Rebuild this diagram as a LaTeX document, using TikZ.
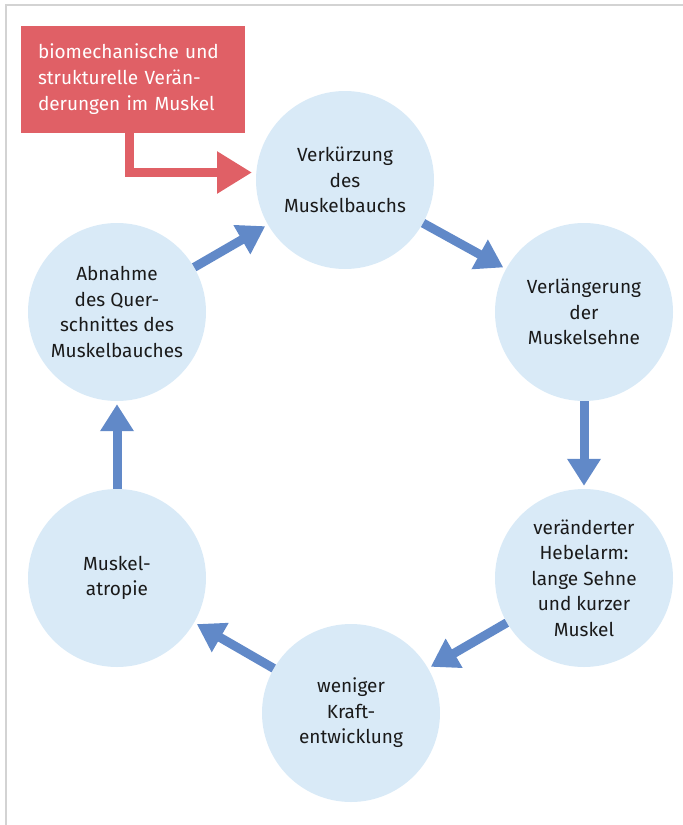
\documentclass[tikz,border=0pt]{standalone}
\usepackage{fontspec}
\setmainfont{Fira Sans}
\usepackage{xcolor}
\usepackage{tikz}
\usetikzlibrary{arrows.meta, positioning}

\definecolor{ringfill}{HTML}{D9EAF7}
\definecolor{flowblue}{HTML}{6189C8}
\definecolor{causered}{HTML}{E06066}
\definecolor{framegray}{HTML}{D3D3D3}
\definecolor{textgray}{HTML}{1A1A1A}

\begin{document}
\begin{tikzpicture}[x=1pt, y=-1pt, >=Stealth,
    stage/.style={circle, fill=ringfill, minimum size=178pt, inner sep=0pt,
        align=center, text=textgray, font=\fontsize{19}{25.5}\selectfont},
    flow/.style={-{Triangle[length=27pt, width=32pt]}, draw=flowblue,
        line width=9pt, shorten >=3pt},
    causeflow/.style={-{Triangle[length=35pt, width=40pt]}, draw=causered,
        line width=9pt, line join=miter}]
    \useasboundingbox (0,0) rectangle (683,825);
    \draw[framegray, line width=2pt] (6,825) -- (6,5) -- (683,5);

    \node[stage] (verk) at (345,180) {Verkürzung\\des\\Muskelbauchs};
    \node[stage] (verl) at (584,312) {Verlängerung\\der\\Muskelsehne};
    \node[stage] (hebel) at (584,578) {veränderter\\Hebelarm:\\lange Sehne\\und kurzer\\Muskel};
    \node[stage] (kraft) at (351,713) {weniger\\Kraft-\\entwicklung};
    \node[stage] (atro) at (117,578) {Muskel-\\atropie};
    \node[stage] (quer) at (117,312) {Abnahme\\des Quer-\\schnittes des\\Muskelbauches};

    \node[rectangle, fill=causered, text=white, text width=190pt, minimum height=107pt,
        inner xsep=17pt, align=left, font=\fontsize{19}{26}\selectfont] (cause) at (133,79.5) {
        biomechanische und\\
        strukturelle Verän-\\
        derungen im Muskel
    };
    \coordinate (hit) at (252,172.5);

    \draw[causeflow] ([xshift=-4pt]cause.south) |- (hit);
    \draw[flow] (verk) -- (verl);
    \draw[flow] (verl) -- (hebel);
    \draw[flow] (hebel) -- (kraft);
    \draw[flow] (kraft) -- (atro);
    \draw[flow] (atro) -- (quer);
    \draw[flow] (quer) -- (verk);
\end{tikzpicture}
\end{document}
